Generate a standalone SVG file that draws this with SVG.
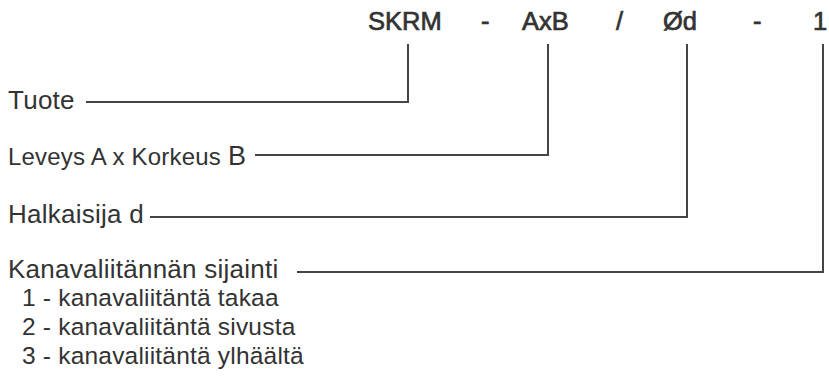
<svg xmlns="http://www.w3.org/2000/svg" width="829" height="380" viewBox="0 0 829 380">
<style>
text{font-family:"Liberation Sans",Arial,Helvetica,sans-serif;fill:#333}
.h{font-size:25.5px;stroke:#333;stroke-width:0.7px}
.m{font-size:26px;letter-spacing:0.25px}
.s{font-size:24px;letter-spacing:0.2px}
.l{font-size:24.5px;letter-spacing:0.2px}
.c{fill:none;stroke:#444;stroke-width:2}
</style>
<rect width="829" height="380" fill="#fff"/>
<g id="header">
<text class="h" x="368" y="30">SKRM</text>
<text class="h" x="481" y="30">-</text>
<text class="h" x="522" y="30">AxB</text>
<text class="h" x="616" y="30">/</text>
<text class="h" x="663" y="30">Ød</text>
<text class="h" x="753" y="30">-</text>
<text class="h" x="813" y="30">1</text>
</g>
<g id="tuote"><text class="m" x="8" y="109">Tuote</text></g>
<g id="leveys"><text class="s" x="8" y="165">Leveys A x Korkeus <tspan style="font-size:27px">B</tspan></text></g>
<g id="halkaisija"><text class="m" x="8" y="223">Halkaisija d</text></g>
<g id="kanava">
<text class="m" x="8" y="278">Kanavaliitännän sijainti</text>
<text class="l" x="22" y="306">1 - kanavaliitäntä takaa</text>
<text class="l" x="22" y="335">2 - kanavaliitäntä sivusta</text>
<text class="l" x="22" y="364">3 - kanavaliitäntä ylhäältä</text>
</g>
<g id="connectors">
<polyline class="c" points="408,44 408,102 86,102"/>
<polyline class="c" points="548,44 548,155 255,155"/>
<polyline class="c" points="687,44 687,217 150,217"/>
<polyline class="c" points="823,44 823,272 297,272"/>
</g>
</svg>
